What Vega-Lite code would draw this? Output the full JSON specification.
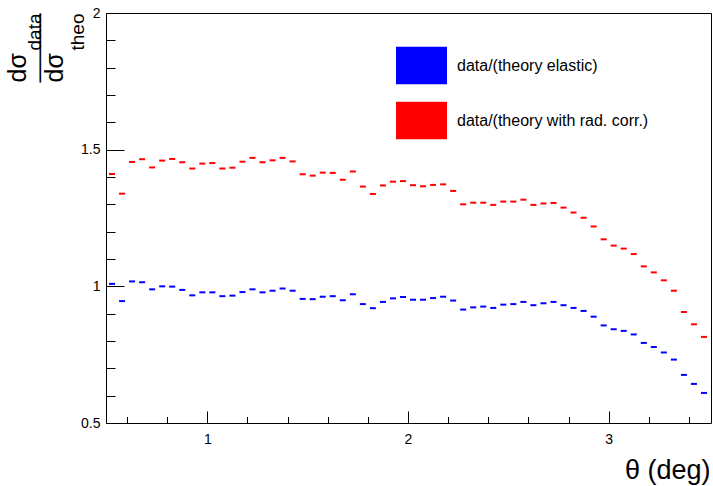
{
  "$schema": "https://vega.github.io/schema/vega-lite/v6.json",
  "width": 605,
  "height": 410,
  "autosize": {"type": "none"},
  "padding": {"left": 106, "top": 13, "right": 2, "bottom": 63},
  "background": "white",
  "config": {
    "view": {"stroke": "black", "strokeWidth": 1},
    "font": "Liberation Sans",
    "axis": {"grid": false, "domain": false, "labelFont": "Liberation Sans", "titleFont": "Liberation Sans", "labelColor": "black", "titleColor": "black", "tickColor": "black", "titleFontWeight": "normal"}
  },
  "datasets": {
    "radcorr": [
      {"theta": 0.525, "ratio": 1.411, "series": "data/(theory with rad. corr.)"},
      {"theta": 0.575, "ratio": 1.339, "series": "data/(theory with rad. corr.)"},
      {"theta": 0.625, "ratio": 1.455, "series": "data/(theory with rad. corr.)"},
      {"theta": 0.675, "ratio": 1.465, "series": "data/(theory with rad. corr.)"},
      {"theta": 0.725, "ratio": 1.435, "series": "data/(theory with rad. corr.)"},
      {"theta": 0.775, "ratio": 1.460, "series": "data/(theory with rad. corr.)"},
      {"theta": 0.825, "ratio": 1.466, "series": "data/(theory with rad. corr.)"},
      {"theta": 0.875, "ratio": 1.454, "series": "data/(theory with rad. corr.)"},
      {"theta": 0.925, "ratio": 1.431, "series": "data/(theory with rad. corr.)"},
      {"theta": 0.975, "ratio": 1.449, "series": "data/(theory with rad. corr.)"},
      {"theta": 1.025, "ratio": 1.451, "series": "data/(theory with rad. corr.)"},
      {"theta": 1.075, "ratio": 1.431, "series": "data/(theory with rad. corr.)"},
      {"theta": 1.125, "ratio": 1.434, "series": "data/(theory with rad. corr.)"},
      {"theta": 1.175, "ratio": 1.456, "series": "data/(theory with rad. corr.)"},
      {"theta": 1.225, "ratio": 1.470, "series": "data/(theory with rad. corr.)"},
      {"theta": 1.275, "ratio": 1.454, "series": "data/(theory with rad. corr.)"},
      {"theta": 1.325, "ratio": 1.461, "series": "data/(theory with rad. corr.)"},
      {"theta": 1.375, "ratio": 1.470, "series": "data/(theory with rad. corr.)"},
      {"theta": 1.425, "ratio": 1.457, "series": "data/(theory with rad. corr.)"},
      {"theta": 1.475, "ratio": 1.410, "series": "data/(theory with rad. corr.)"},
      {"theta": 1.525, "ratio": 1.405, "series": "data/(theory with rad. corr.)"},
      {"theta": 1.575, "ratio": 1.416, "series": "data/(theory with rad. corr.)"},
      {"theta": 1.625, "ratio": 1.415, "series": "data/(theory with rad. corr.)"},
      {"theta": 1.675, "ratio": 1.390, "series": "data/(theory with rad. corr.)"},
      {"theta": 1.725, "ratio": 1.420, "series": "data/(theory with rad. corr.)"},
      {"theta": 1.775, "ratio": 1.365, "series": "data/(theory with rad. corr.)"},
      {"theta": 1.825, "ratio": 1.338, "series": "data/(theory with rad. corr.)"},
      {"theta": 1.875, "ratio": 1.369, "series": "data/(theory with rad. corr.)"},
      {"theta": 1.925, "ratio": 1.383, "series": "data/(theory with rad. corr.)"},
      {"theta": 1.975, "ratio": 1.385, "series": "data/(theory with rad. corr.)"},
      {"theta": 2.025, "ratio": 1.370, "series": "data/(theory with rad. corr.)"},
      {"theta": 2.075, "ratio": 1.366, "series": "data/(theory with rad. corr.)"},
      {"theta": 2.125, "ratio": 1.371, "series": "data/(theory with rad. corr.)"},
      {"theta": 2.175, "ratio": 1.373, "series": "data/(theory with rad. corr.)"},
      {"theta": 2.225, "ratio": 1.349, "series": "data/(theory with rad. corr.)"},
      {"theta": 2.275, "ratio": 1.300, "series": "data/(theory with rad. corr.)"},
      {"theta": 2.325, "ratio": 1.306, "series": "data/(theory with rad. corr.)"},
      {"theta": 2.375, "ratio": 1.306, "series": "data/(theory with rad. corr.)"},
      {"theta": 2.425, "ratio": 1.298, "series": "data/(theory with rad. corr.)"},
      {"theta": 2.475, "ratio": 1.310, "series": "data/(theory with rad. corr.)"},
      {"theta": 2.525, "ratio": 1.310, "series": "data/(theory with rad. corr.)"},
      {"theta": 2.575, "ratio": 1.317, "series": "data/(theory with rad. corr.)"},
      {"theta": 2.625, "ratio": 1.298, "series": "data/(theory with rad. corr.)"},
      {"theta": 2.675, "ratio": 1.303, "series": "data/(theory with rad. corr.)"},
      {"theta": 2.725, "ratio": 1.305, "series": "data/(theory with rad. corr.)"},
      {"theta": 2.775, "ratio": 1.288, "series": "data/(theory with rad. corr.)"},
      {"theta": 2.825, "ratio": 1.270, "series": "data/(theory with rad. corr.)"},
      {"theta": 2.875, "ratio": 1.251, "series": "data/(theory with rad. corr.)"},
      {"theta": 2.925, "ratio": 1.219, "series": "data/(theory with rad. corr.)"},
      {"theta": 2.975, "ratio": 1.172, "series": "data/(theory with rad. corr.)"},
      {"theta": 3.025, "ratio": 1.149, "series": "data/(theory with rad. corr.)"},
      {"theta": 3.075, "ratio": 1.138, "series": "data/(theory with rad. corr.)"},
      {"theta": 3.125, "ratio": 1.118, "series": "data/(theory with rad. corr.)"},
      {"theta": 3.175, "ratio": 1.073, "series": "data/(theory with rad. corr.)"},
      {"theta": 3.225, "ratio": 1.051, "series": "data/(theory with rad. corr.)"},
      {"theta": 3.275, "ratio": 1.022, "series": "data/(theory with rad. corr.)"},
      {"theta": 3.325, "ratio": 0.984, "series": "data/(theory with rad. corr.)"},
      {"theta": 3.375, "ratio": 0.906, "series": "data/(theory with rad. corr.)"},
      {"theta": 3.425, "ratio": 0.861, "series": "data/(theory with rad. corr.)"},
      {"theta": 3.475, "ratio": 0.815, "series": "data/(theory with rad. corr.)"}
    ],
    "elastic": [
      {"theta": 0.525, "ratio": 1.009, "series": "data/(theory elastic)"},
      {"theta": 0.575, "ratio": 0.946, "series": "data/(theory elastic)"},
      {"theta": 0.625, "ratio": 1.018, "series": "data/(theory elastic)"},
      {"theta": 0.675, "ratio": 1.015, "series": "data/(theory elastic)"},
      {"theta": 0.725, "ratio": 0.989, "series": "data/(theory elastic)"},
      {"theta": 0.775, "ratio": 1.000, "series": "data/(theory elastic)"},
      {"theta": 0.825, "ratio": 0.999, "series": "data/(theory elastic)"},
      {"theta": 0.875, "ratio": 0.987, "series": "data/(theory elastic)"},
      {"theta": 0.925, "ratio": 0.967, "series": "data/(theory elastic)"},
      {"theta": 0.975, "ratio": 0.978, "series": "data/(theory elastic)"},
      {"theta": 1.025, "ratio": 0.978, "series": "data/(theory elastic)"},
      {"theta": 1.075, "ratio": 0.964, "series": "data/(theory elastic)"},
      {"theta": 1.125, "ratio": 0.966, "series": "data/(theory elastic)"},
      {"theta": 1.175, "ratio": 0.979, "series": "data/(theory elastic)"},
      {"theta": 1.225, "ratio": 0.989, "series": "data/(theory elastic)"},
      {"theta": 1.275, "ratio": 0.978, "series": "data/(theory elastic)"},
      {"theta": 1.325, "ratio": 0.984, "series": "data/(theory elastic)"},
      {"theta": 1.375, "ratio": 0.992, "series": "data/(theory elastic)"},
      {"theta": 1.425, "ratio": 0.984, "series": "data/(theory elastic)"},
      {"theta": 1.475, "ratio": 0.954, "series": "data/(theory elastic)"},
      {"theta": 1.525, "ratio": 0.953, "series": "data/(theory elastic)"},
      {"theta": 1.575, "ratio": 0.962, "series": "data/(theory elastic)"},
      {"theta": 1.625, "ratio": 0.964, "series": "data/(theory elastic)"},
      {"theta": 1.675, "ratio": 0.949, "series": "data/(theory elastic)"},
      {"theta": 1.725, "ratio": 0.971, "series": "data/(theory elastic)"},
      {"theta": 1.775, "ratio": 0.935, "series": "data/(theory elastic)"},
      {"theta": 1.825, "ratio": 0.920, "series": "data/(theory elastic)"},
      {"theta": 1.875, "ratio": 0.943, "series": "data/(theory elastic)"},
      {"theta": 1.925, "ratio": 0.956, "series": "data/(theory elastic)"},
      {"theta": 1.975, "ratio": 0.961, "series": "data/(theory elastic)"},
      {"theta": 2.025, "ratio": 0.951, "series": "data/(theory elastic)"},
      {"theta": 2.075, "ratio": 0.951, "series": "data/(theory elastic)"},
      {"theta": 2.125, "ratio": 0.957, "series": "data/(theory elastic)"},
      {"theta": 2.175, "ratio": 0.962, "series": "data/(theory elastic)"},
      {"theta": 2.225, "ratio": 0.948, "series": "data/(theory elastic)"},
      {"theta": 2.275, "ratio": 0.915, "series": "data/(theory elastic)"},
      {"theta": 2.325, "ratio": 0.923, "series": "data/(theory elastic)"},
      {"theta": 2.375, "ratio": 0.926, "series": "data/(theory elastic)"},
      {"theta": 2.425, "ratio": 0.921, "series": "data/(theory elastic)"},
      {"theta": 2.475, "ratio": 0.933, "series": "data/(theory elastic)"},
      {"theta": 2.525, "ratio": 0.935, "series": "data/(theory elastic)"},
      {"theta": 2.575, "ratio": 0.943, "series": "data/(theory elastic)"},
      {"theta": 2.625, "ratio": 0.931, "series": "data/(theory elastic)"},
      {"theta": 2.675, "ratio": 0.938, "series": "data/(theory elastic)"},
      {"theta": 2.725, "ratio": 0.943, "series": "data/(theory elastic)"},
      {"theta": 2.775, "ratio": 0.931, "series": "data/(theory elastic)"},
      {"theta": 2.825, "ratio": 0.921, "series": "data/(theory elastic)"},
      {"theta": 2.875, "ratio": 0.910, "series": "data/(theory elastic)"},
      {"theta": 2.925, "ratio": 0.889, "series": "data/(theory elastic)"},
      {"theta": 2.975, "ratio": 0.857, "series": "data/(theory elastic)"},
      {"theta": 3.025, "ratio": 0.843, "series": "data/(theory elastic)"},
      {"theta": 3.075, "ratio": 0.837, "series": "data/(theory elastic)"},
      {"theta": 3.125, "ratio": 0.824, "series": "data/(theory elastic)"},
      {"theta": 3.175, "ratio": 0.793, "series": "data/(theory elastic)"},
      {"theta": 3.225, "ratio": 0.778, "series": "data/(theory elastic)"},
      {"theta": 3.275, "ratio": 0.758, "series": "data/(theory elastic)"},
      {"theta": 3.325, "ratio": 0.732, "series": "data/(theory elastic)"},
      {"theta": 3.375, "ratio": 0.676, "series": "data/(theory elastic)"},
      {"theta": 3.425, "ratio": 0.643, "series": "data/(theory elastic)"},
      {"theta": 3.475, "ratio": 0.610, "series": "data/(theory elastic)"}
    ]
  },
  "resolve": {"axis": {"x": "independent", "y": "independent"}},
  "layer": [
    {
      "data": {"name": "radcorr"},
      "mark": {"type": "tick", "orient": "horizontal", "size": 6, "thickness": 2, "opacity": 1},
      "encoding": {
        "x": {
          "field": "theta", "type": "quantitative",
          "scale": {"domain": [0.495, 3.51], "nice": false, "zero": false},
          "axis": {
            "orient": "bottom", "values": [1, 2, 3], "format": "~g", "ticks": false, "domain": false,
            "labelFontSize": 14, "labelPadding": 9,
            "title": "θ (deg)", "titleFontSize": 27, "titleAlign": "right", "titleBaseline": "alphabetic",
            "titleAngle": 0, "titleX": 604, "titleY": 55
          }
        },
        "y": {
          "field": "ratio", "type": "quantitative",
          "scale": {"domain": [0.5, 2], "nice": false, "zero": false},
          "axis": {
            "orient": "left", "values": [0.5, 1, 1.5, 2], "format": "~g", "ticks": false, "domain": false,
            "labelFontSize": 14, "labelPadding": 6,
            "title": ["dσ", "dσ"], "titleFontSize": 25, "titleAngle": 270, "titleAlign": "left",
            "titleBaseline": "alphabetic", "titleLineHeight": 37, "titleX": -81, "titleY": 69
          }
        },
        "color": {
          "field": "series", "type": "nominal",
          "scale": {"domain": ["data/(theory elastic)", "data/(theory with rad. corr.)"], "range": ["#0000ff", "#ff0000"]},
          "legend": {
            "orient": "none", "legendX": 290, "legendY": 27, "title": null, "padding": 0,
            "symbolType": "M-1,-0.739H1V0.739H-1Z", "symbolSize": 2601, "symbolStrokeWidth": 0, "symbolOpacity": 1,
            "labelFont": "Liberation Sans", "labelFontSize": 16, "labelColor": "black", "labelOffset": 10,
            "labelLimit": 400, "rowPadding": 10
          }
        }
      }
    },
    {
      "data": {"name": "elastic"},
      "mark": {"type": "tick", "orient": "horizontal", "size": 6, "thickness": 2, "opacity": 1},
      "encoding": {
        "x": {
          "field": "theta", "type": "quantitative",
          "scale": {"domain": [0.495, 3.51], "nice": false, "zero": false},
          "axis": {
            "orient": "top", "offset": -410,
            "values": [0.6, 0.8, 1, 1.2, 1.4, 1.6, 1.8, 2, 2.2, 2.4, 2.6, 2.8, 3, 3.2, 3.4],
            "labels": false, "domain": false, "tickWidth": 1,
            "tickSize": {"condition": {"test": "abs(datum.value - round(datum.value)) < 0.001", "value": 12}, "value": 6.5},
            "title": "──────", "titleFont": "DejaVu Sans Mono", "titleFontSize": 19, "titleAngle": 270, "titleAlign": "left",
            "titleBaseline": "middle", "titleX": -66, "titleY": -341
          }
        },
        "y": {
          "field": "ratio", "type": "quantitative",
          "scale": {"domain": [0.5, 2], "nice": false, "zero": false},
          "axis": {
            "orient": "right", "offset": -605,
            "values": [0.5, 0.6, 0.7, 0.8, 0.9, 1, 1.1, 1.2, 1.3, 1.4, 1.5, 1.6, 1.7, 1.8, 1.9, 2],
            "labels": false, "domain": false, "tickWidth": 1,
            "tickSize": {"condition": {"test": "abs(datum.value * 2 - round(datum.value * 2)) < 0.001", "value": 18}, "value": 9},
            "title": ["data", "theo"], "titleFontSize": 19, "titleAngle": 270, "titleAlign": "left",
            "titleBaseline": "alphabetic", "titleLineHeight": 43, "titleX": -66, "titleY": 37
          }
        },
        "color": {
          "field": "series", "type": "nominal",
          "scale": {"domain": ["data/(theory elastic)", "data/(theory with rad. corr.)"], "range": ["#0000ff", "#ff0000"]}
        }
      }
    }
  ]
}
